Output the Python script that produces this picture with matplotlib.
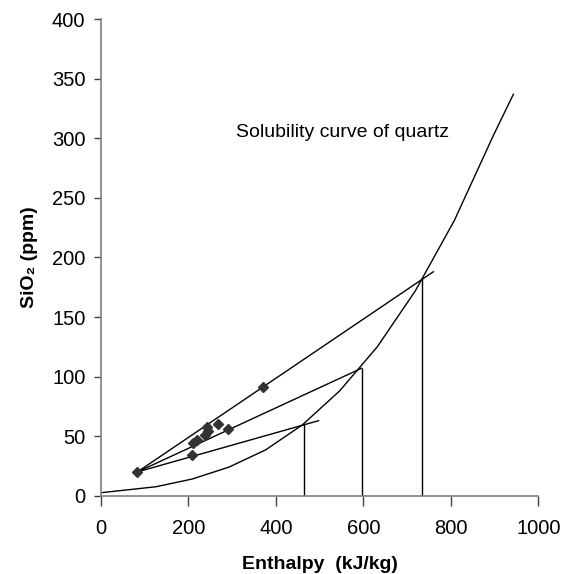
import matplotlib
matplotlib.use("Agg")
import matplotlib.pyplot as plt

plt.rcParams['font.family'] = ['Liberation Sans', 'DejaVu Sans']

# solubility curve of quartz (enthalpy kJ/kg, SiO2 ppm)
curve_h = [0, 126, 209, 293, 377, 461, 546, 632, 719, 808, 898, 943]
curve_si = [2.5, 7.5, 14, 24, 38.5, 59.5, 88, 125, 172, 231, 303, 337]

# measured samples
sample_h = [84, 370, 267, 292, 242, 246, 238, 219, 212, 209]
sample_si = [20, 91, 60, 56, 58, 54, 51, 47, 44, 34]

# mixing lines from the cold end member
mix_start = (84, 20)
mix_end_h = [760, 596, 498]
mix_end_si = [188, 107, 63]

# intersections with the solubility curve
drop_h = [465, 596, 734]
drop_si = [60, 107, 182]

fig = plt.figure(figsize=(5.70, 5.74), dpi=100)
ax = fig.add_axes([0.1767, 0.1364, 0.7677, 0.83])

ax.plot(curve_h, curve_si, color='black', lw=1.0)
for h, s in zip(mix_end_h, mix_end_si):
    ax.plot([mix_start[0], h], [mix_start[1], s], color='black', lw=1.0)
ax.vlines(drop_h, 0, drop_si, color='black', lw=1.0)
ax.plot(sample_h, sample_si, linestyle='none', marker='D', ms=5.5,
        color='#333333', zorder=3)

ax.text(309, 305, 'Solubility curve of quartz', fontsize=14,
        ha='left', va='center')

ax.set_xlim(0, 1000)
ax.set_ylim(0, 400)
ax.set_xticks(range(0, 1001, 200))
ax.set_yticks(range(0, 401, 50))

for side in ['top', 'right']:
    ax.spines[side].set_visible(False)
for side in ['left', 'bottom']:
    ax.spines[side].set_color('#808080')
    ax.spines[side].set_linewidth(1.2)

ax.tick_params(axis='x', direction='out', length=7, width=1, color='#404040',
               labelsize=14.5, pad=10)
ax.tick_params(axis='y', direction='out', length=5, width=1, color='#404040',
               labelsize=14.5, pad=6)

ax.set_xlabel('Enthalpy  (kJ/kg)', fontsize=14, fontweight='bold', labelpad=13)
ax.set_ylabel('SiO₂ (ppm)', fontsize=14, fontweight='bold', labelpad=10)

fig.savefig('out.png', dpi=100)
